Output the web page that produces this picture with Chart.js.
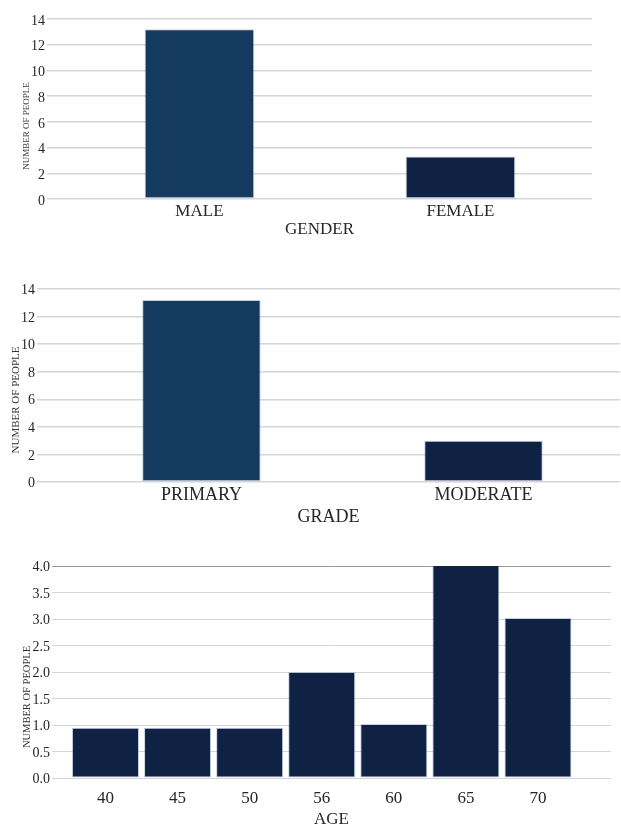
<!DOCTYPE html>
<html>
<head>
<meta charset="utf-8">
<title>Patient profile</title>
<script src="https://cdn.jsdelivr.net/npm/chart.js@4.4.1/dist/chart.umd.min.js"></script>
<style>
  html, body { margin: 0; padding: 0; background: #ffffff; }
  body { width: 621px; height: 828px; position: relative; overflow: hidden; }
  canvas { position: absolute; left: 0; }
</style>
</head>
<body>
<canvas id="gender" width="621" height="245" style="top:0px"></canvas>
<canvas id="grade" width="621" height="260" style="top:270px"></canvas>
<canvas id="age" width="621" height="278" style="top:550px"></canvas>
<script>
// Counts per group
const genderLabels = ['MALE', 'FEMALE'];
const genderCounts = [13.2, 3.3];

const gradeLabels = ['PRIMARY', 'MODERATE'];
const gradeCounts = [13.2, 3.0];

const ageLabels = ['40', '45', '50', '56', '60', '65', '70'];
const ageCounts = [0.95, 0.95, 0.95, 2.0, 1.02, 4.04, 3.02];

const Y_TITLE = 'NUMBER OF PEOPLE';

const SERIF = "'Liberation Serif', 'Times New Roman', serif";
const TEXT = '#262626';

// Rotated y-axis caption, placed a little below the middle of the plot
const yCaption = {
  id: 'yCaption',
  afterDraw(chart, args, opts) {
    const { ctx, chartArea } = chart;
    ctx.save();
    ctx.translate(opts.x, (chartArea.top + chartArea.bottom) / 2 + opts.shift);
    ctx.rotate(-Math.PI / 2);
    ctx.textAlign = 'center';
    ctx.textBaseline = 'middle';
    ctx.font = opts.size + 'px ' + SERIF;
    ctx.fillStyle = '#333333';
    ctx.fillText(opts.text, 0, 0);
    ctx.restore();
  }
};

function barChart(id, cfg) {
  const points = cfg.labels.map((_, i) => ({ x: i, y: cfg.values[i] }));
  return new Chart(document.getElementById(id), {
    type: 'bar',
    plugins: [yCaption],
    data: {
      datasets: [{
        data: points,
        backgroundColor: cfg.colors,
        borderColor: 'rgba(150,170,195,0.55)',
        borderWidth: 1,
        borderSkipped: false,
        barPercentage: cfg.barPct,
        categoryPercentage: 1
      }]
    },
    options: {
      responsive: false,
      animation: false,
      devicePixelRatio: 1,
      layout: { padding: cfg.padding },
      plugins: {
        legend: { display: false },
        tooltip: { enabled: false },
        yCaption: { text: Y_TITLE, x: cfg.yTitleX, shift: cfg.yTitleShift, size: cfg.yTitleFont }
      },
      scales: {
        x: {
          type: 'linear',
          min: cfg.xMin,
          max: cfg.xMax,
          offset: false,
          grid: { display: false, drawTicks: false },
          border: { display: false },
          afterBuildTicks: s => { s.ticks = cfg.labels.map((_, i) => ({ value: i })); },
          afterFit: s => { s.height = cfg.xHeight; },
          ticks: {
            autoSkip: false,
            maxRotation: 0,
            padding: cfg.xTickPad,
            color: TEXT,
            font: { family: SERIF, size: cfg.xFont },
            callback: (v, i) => cfg.labels[i]
          },
          title: {
            display: true,
            text: cfg.xTitle,
            color: TEXT,
            font: { family: SERIF, size: cfg.xFont, lineHeight: 1 },
            padding: { top: 0, bottom: cfg.xTitlePad }
          }
        },
        y: {
          min: 0,
          max: cfg.yMax,
          afterFit: s => { s.width = cfg.yWidth; },
          grid: {
            drawTicks: false,
            lineWidth: cfg.gridWidth,
            color: c => (cfg.topGridColor && c.tick && c.tick.value === cfg.yMax) ? cfg.topGridColor : '#d6d6d6'
          },
          border: { display: false },
          ticks: {
            stepSize: cfg.yStep,
            padding: 2,
            labelOffset: cfg.yLabelOffset,
            color: TEXT,
            font: { family: SERIF, size: 14 },
            callback: v => cfg.yDigits ? v.toFixed(cfg.yDigits) : String(v)
          },
          title: { display: false }
        }
      }
    }
  });
}

barChart('gender', {
  labels: genderLabels, values: genderCounts,
  colors: ['#143a5f', '#0f2244'],
  xTitle: 'GENDER', xFont: 17, xTickPad: 2, xHeight: 46, xTitlePad: 6.5,
  xMin: -0.584, xMax: 1.504, barPct: 0.42,
  yMax: 14, yStep: 2, yWidth: 47, yLabelOffset: 2, gridWidth: 1.5,
  yTitleFont: 9, yTitleX: 27, yTitleShift: 17,
  padding: { top: 19, left: 0, right: 29, bottom: 0 }
});

barChart('grade', {
  labels: gradeLabels, values: gradeCounts,
  colors: ['#143a5f', '#0f2244'],
  xTitle: 'GRADE', xFont: 18, xTickPad: 2, xHeight: 48, xTitlePad: 4,
  xMin: -0.583, xMax: 1.484, barPct: 0.42,
  yMax: 14, yStep: 2, yWidth: 37, yLabelOffset: 1.5, gridWidth: 1.5,
  yTitleFont: 11, yTitleX: 16, yTitleShift: 14.5,
  padding: { top: 19, left: 0, right: 1, bottom: 0 }
});

barChart('age', {
  labels: ageLabels, values: ageCounts,
  colors: '#0f2244',
  xTitle: 'AGE', xFont: 17, xTickPad: 10, xHeight: 50, xTitlePad: 0,
  xMin: -0.742, xMax: 7.013, barPct: 0.93,
  yMax: 4, yStep: 0.5, yDigits: 1, yWidth: 52, yLabelOffset: 1.5, gridWidth: 1,
  yTitleFont: 10.5, yTitleX: 27, yTitleShift: 25,
  topGridColor: '#9a9a9a',
  padding: { top: 16, left: 0, right: 10, bottom: 0 }
});
</script>
</body>
</html>
